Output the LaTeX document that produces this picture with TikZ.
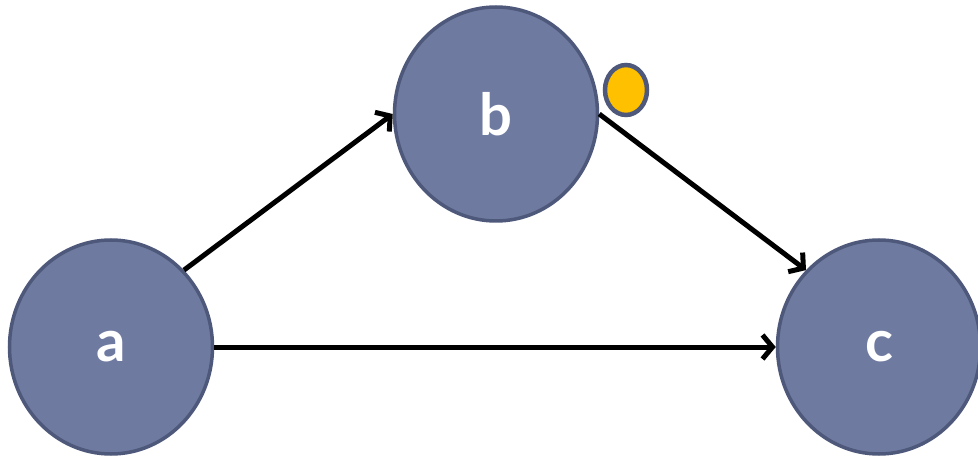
\documentclass[tikz,border=0pt]{standalone}
\usepackage{fontspec}
\setmainfont{Lato}
\usetikzlibrary{arrows.meta,shapes.geometric}
\definecolor{nodefill}{RGB}{111,122,161}
\definecolor{nodeedge}{RGB}{78,88,122}
\definecolor{dotfill}{RGB}{255,192,0}
\tikzset{
  vert/.style={ellipse, fill=nodefill, draw=nodeedge, line width=3.5pt, minimum width=203pt, minimum height=214pt, inner sep=0pt,
    text=white, font=\fontsize{58}{66}\selectfont\bfseries},
  conn/.style={line width=5pt, -{Straight Barb[length=10pt,width=24pt,line width=5pt]}}
}
\begin{document}
\begin{tikzpicture}[x=1pt,y=-1pt]
\useasboundingbox (0,0) rectangle (978,457);
\node[vert] (a) at (111,347) {a};
\node[vert] (b) at (496,114) {b};
\node[vert] (c) at (879,347) {c};
\node[ellipse, fill=dotfill, draw=nodeedge, line width=4.5pt, minimum width=42pt, minimum height=50pt, inner sep=0pt] (d) at (626,90) {};
\draw[conn] (a.north east) -- (b.west);
\draw[conn] (b.east) -- (c.north west);
\draw[conn] (a.east) -- (c.west);
\end{tikzpicture}
\end{document}
